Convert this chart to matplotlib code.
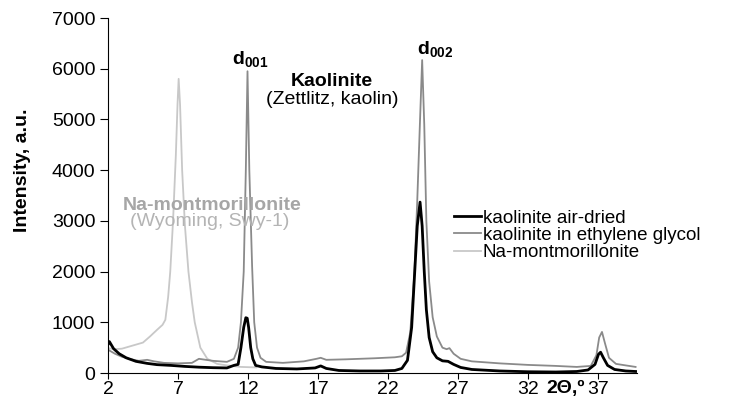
import matplotlib
matplotlib.use('Agg')
import matplotlib.pyplot as plt

plt.rcParams['font.family'] = ['Liberation Sans', 'DejaVu Sans']
plt.rcParams['mathtext.fontset'] = 'custom'
plt.rcParams['mathtext.rm'] = 'Liberation Sans'
plt.rcParams['mathtext.bf'] = 'Liberation Sans:bold'

# kaolinite air-dried (2-theta, intensity)
air_x = [2.0, 2.1, 2.4, 2.8, 3.3, 4.0, 4.8, 5.5, 6.5, 7.5, 8.5, 9.5, 10.5, 11.0,
         11.3, 11.5, 11.7, 11.85, 11.95, 12.05, 12.2, 12.35, 12.55, 13.0, 14.0,
         15.5, 16.8, 17.2, 17.6, 18.5, 20.0, 21.5, 22.5, 23.0, 23.4, 23.7, 23.9,
         24.1, 24.3, 24.45, 24.6, 24.75, 24.95, 25.2, 25.5, 25.9, 26.3, 26.7,
         27.2, 28.0, 30.0, 32.0, 34.0, 35.5, 36.3, 36.8, 37.05, 37.2, 37.4, 37.7,
         38.2, 39.0, 39.7]
air_y = [560, 620, 480, 380, 300, 230, 190, 165, 150, 130, 115, 105, 100, 150,
         170, 500, 900, 1090, 1080, 900, 500, 280, 150, 120, 90,
         80, 100, 140, 90, 50, 40, 40, 50, 90, 250, 900, 1900,
         2900, 3370, 2900, 2000, 1250, 700, 420, 300, 240, 230, 170,
         110, 70, 40, 25, 20, 30, 60, 170, 370, 410, 300, 150,
         70, 40, 30]

# kaolinite in ethylene glycol
gly_x = [2.0, 2.5, 3.0, 3.5, 4.2, 4.8, 5.3, 6.0, 7.0, 8.0, 8.5, 9.5, 10.5, 11.0,
         11.3, 11.5, 11.7, 11.85, 11.97, 12.1, 12.3, 12.45, 12.65, 12.9, 13.3,
         14.5, 16.0, 16.9, 17.2, 17.6, 19.0, 21.0, 22.5, 23.0, 23.3, 23.6, 23.9,
         24.1, 24.3, 24.45, 24.6, 24.75, 24.95, 25.2, 25.5, 25.9, 26.2, 26.4,
         26.7, 27.2, 28.0, 30.0, 32.0, 34.0, 35.5, 36.5, 36.9, 37.1, 37.3, 37.5,
         37.8, 38.3, 39.0, 39.7]
gly_y = [460, 380, 320, 280, 240, 260, 230, 200, 190, 200, 280, 240, 220, 280,
         500, 1000, 2000, 4000, 5950, 4000, 2100, 1000, 500, 300, 220,
         200, 230, 280, 300, 260, 270, 290, 310, 330, 400, 800, 2000,
         3400, 5000, 6170, 4900, 3000, 1800, 1100, 720, 500, 470, 490,
         380, 280, 230, 190, 160, 140, 120, 140, 350, 700, 810, 600,
         300, 180, 150, 120]

# Na-montmorillonite
mont_x = [2.0, 2.5, 3.0, 3.5, 4.0, 4.5, 5.0, 5.5, 5.9, 6.1, 6.3, 6.45, 6.65,
          6.85, 6.97, 7.05, 7.15, 7.3, 7.5, 7.75, 8.0, 8.2, 8.6, 9.1, 9.8,
          10.5, 11.5, 12.6]
mont_y = [490, 470, 480, 520, 560, 600, 720, 850, 950, 1050, 1500, 2000, 3000,
          4300, 5300, 5800, 5300, 4000, 2900, 2000, 1400, 1000, 500, 280, 180,
          150, 120, 110]

series_labels = ['kaolinite air-dried', 'kaolinite in ethylene glycol', 'Na-montmorillonite']
x_ticks = [2, 7, 12, 17, 22, 27, 32, 37]
y_ticks = [0, 1000, 2000, 3000, 4000, 5000, 6000, 7000]

fig = plt.figure(figsize=(7.33, 4.01), dpi=100)
ax = fig.add_axes([0.1473, 0.0698, 0.7217, 0.8853])

ax.plot(mont_x, mont_y, color='#c8c8c8', lw=1.3, label=series_labels[2], zorder=1)
ax.plot(gly_x, gly_y, color='#8a8a8a', lw=1.3, label=series_labels[1], zorder=2)
ax.plot(air_x, air_y, color='black', lw=2.0, label=series_labels[0], zorder=3)

ax.set_xlim(2, 39.8)
ax.set_ylim(0, 7000)
ax.set_xticks(x_ticks)
ax.set_yticks(y_ticks)
ax.spines['top'].set_visible(False)
ax.spines['right'].set_visible(False)
ax.tick_params(axis='y', direction='out', length=6, labelsize=14, pad=3)
ax.tick_params(axis='x', direction='out', length=4, labelsize=14, pad=2)
ax.set_ylabel('Intensity, a.u.', fontsize=14, fontweight='bold')
ax.yaxis.set_label_coords(-0.145, 0.572)

# x axis label sits in the tick label row
ax.text(34.7, -130, '2Θ,º', fontsize=14, fontweight='bold', ha='center', va='top')

# annotations
ax.text(12.15, 6000, r'$\mathbf{d_{001}}$', fontsize=14, ha='center', va='bottom')
ax.text(25.4, 6200, r'$\mathbf{d_{002}}$', fontsize=14, ha='center', va='bottom')
ax.text(17.96, 5740, 'Kaolinite', fontsize=14, fontweight='bold', ha='center', va='center')
ax.text(18.0, 5385, '(Zettlitz, kaolin)', fontsize=14, ha='center', va='center')
ax.text(9.45, 3300, 'Na-montmorillonite', fontsize=14, fontweight='bold',
        color='#a6a6a6', ha='center', va='center')
ax.text(9.25, 2980, '(Wyoming, Swy-1)', fontsize=14, color='#b4b4b4',
        ha='center', va='center')

handles, labels = ax.get_legend_handles_labels()
order = [2, 1, 0]
ax.legend([handles[i] for i in order], [labels[i] for i in order],
          loc='upper left', bbox_to_anchor=(0.655, 0.46), frameon=False,
          fontsize=13.5, handlelength=1.4, handletextpad=0.1, labelspacing=0.0,
          borderpad=0, borderaxespad=0)

fig.savefig('out.png', dpi=100)
